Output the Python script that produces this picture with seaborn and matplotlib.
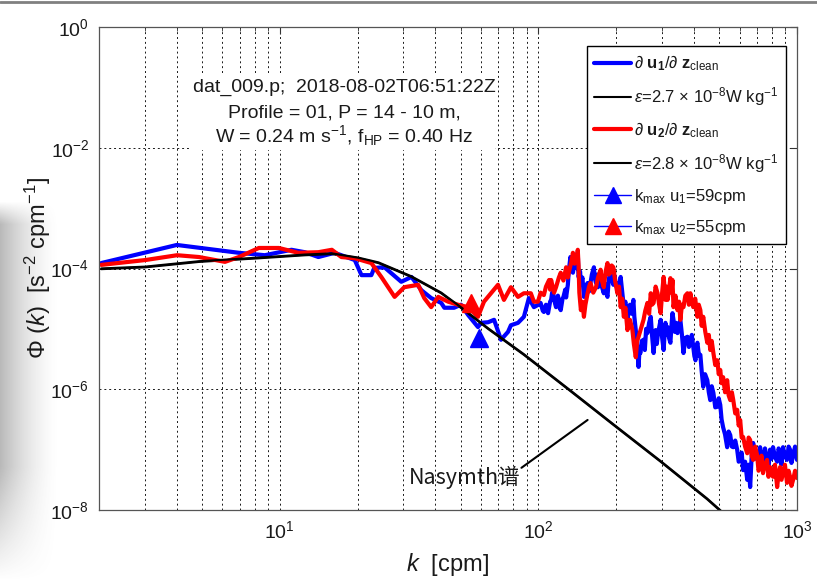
import numpy as np
import pandas as pd
import matplotlib
matplotlib.use("Agg")
import matplotlib.pyplot as plt
import seaborn as sns
from matplotlib.lines import Line2D
from matplotlib.patches import Rectangle
from matplotlib.ticker import FixedLocator, NullLocator, LogLocator, LogFormatterSciNotation, NullFormatter

# ---------------- data ----------------
# wavenumber k [cpm] and log10 of shear spectrum Phi [s^-2 cpm^-1]
k_u1 = [2.04, 4.0, 6.95, 8.75, 11.1, 12.5, 14.1, 16.3, 19.5, 20.7,
        22.6, 23.2, 25.4, 29.5, 32.3, 35.3, 38.5, 42.1, 43.3, 47.2,
        50.2, 53.5, 58.4, 60.0, 63.9, 67.4, 71.7, 76.3, 78.3, 83.4,
        87.9, 91.9, 96.1,
        100, 102, 104, 105, 107, 109, 111, 112, 113, 114,
        116, 117, 119, 120, 121, 122, 124, 125, 127, 128,
        130, 131, 133, 134, 136, 138, 140, 141, 142, 143,
        145, 146, 148, 150, 152, 155, 157, 159, 161, 164,
        165, 167, 169, 170, 172, 174, 176, 179, 181, 183,
        185, 187, 190, 192, 195, 197, 200, 202, 205, 208,
        211, 214, 217, 221, 223, 226, 229, 233, 235, 238,
        241, 244, 246, 248, 251, 255, 258, 261, 264, 268,
        272, 275, 279, 282, 284, 287, 289, 293, 297, 301,
        305, 308, 310, 313, 316, 320, 324, 327, 330, 333,
        337, 341, 345, 350, 354, 359, 364, 370, 377, 382,
        387, 392, 397, 401, 405, 408, 412, 418, 423, 428,
        434, 441, 450, 456, 462, 468, 475, 483, 492, 498,
        505, 511, 518, 527, 537, 544, 552, 560, 567, 577,
        587, 595, 603, 611, 619, 630, 642, 650, 659, 668,
        677, 689, 701, 710, 720, 729, 739, 752, 766, 776,
        787, 797, 808, 822, 838, 849, 860, 871, 883, 898,
        915, 928, 940, 952, 966, 983, 1000]
lg_u1 = [-3.91, -3.61, -3.74, -3.78, -3.69, -3.73, -3.81, -3.74, -3.86, -4.11,
         -4.11, -3.99, -3.98, -4.22, -4.14, -4.36, -4.49, -4.57, -4.65, -4.65,
         -4.60, -4.77, -4.97, -4.90, -4.89, -4.85, -5.18, -5.05, -4.94, -4.90,
         -4.80, -4.49, -4.64,
         -4.60, -4.57, -4.70, -4.72, -4.60, -4.74, -4.55, -4.52, -4.40, -4.41,
         -4.58, -4.64, -4.45, -4.52, -4.66, -4.69, -4.50, -4.47, -4.35, -4.48,
         -4.27, -4.05, -3.81, -4.00, -4.07, -3.90, -3.86, -4.00, -3.73, -4.14,
         -4.05, -4.27, -4.15, -4.47, -4.30, -4.24, -4.38, -4.24, -4.10, -3.98,
         -4.15, -4.24, -4.10, -4.31, -4.20, -4.14, -4.30, -4.41, -4.25, -4.40,
         -4.47, -4.20, -4.02, -4.18, -4.27, -4.12, -4.30, -4.24, -4.35, -4.14,
         -4.40, -4.64, -4.55, -4.85, -4.65, -4.60, -4.75, -4.52, -4.80, -5.02,
         -5.30, -5.63, -5.35, -5.40, -5.20, -5.18, -5.35, -5.00, -5.07, -4.90,
         -4.80, -5.10, -5.40, -5.15, -5.02, -5.25, -5.13, -4.98, -4.85, -5.15,
         -5.35, -5.05, -4.90, -5.10, -4.97, -5.15, -5.23, -4.95, -4.74, -4.85,
         -5.05, -4.90, -5.07, -4.95, -4.85, -5.10, -5.40, -5.15, -5.13, -5.30,
         -5.23, -5.10, -5.30, -5.45, -5.52, -5.30, -5.23, -5.45, -5.43, -5.70,
         -5.96, -5.75, -5.85, -6.05, -6.18, -5.95, -6.06, -6.30, -6.29, -6.15,
         -6.26, -6.50, -6.63, -6.75, -6.96, -6.70, -6.76, -6.95, -6.96, -6.85,
         -7.00, -7.20, -7.17, -7.05, -7.34, -7.20, -7.50, -7.25, -7.62, -7.10,
         -6.89, -7.15, -7.06, -7.25, -6.96, -7.15, -7.20, -6.98, -7.17, -7.30,
         -7.00, -7.15, -6.96, -7.12, -7.20, -6.98, -7.06, -7.25, -6.96, -7.10,
         -7.17, -6.95, -7.00, -7.22, -7.09, -6.95, -7.17]

k_u2 = [2.04, 3.02, 4.01, 4.87, 6.14, 6.95, 8.30, 9.91, 11.8, 14.1,
        15.9, 17.3, 19.5, 22.6, 24.7, 27.8, 30.3, 34.3, 36.2, 38.5,
        41.0, 44.8, 48.9, 53.5, 58.4, 61.6, 65.6, 69.8, 73.6, 78.3,
        83.4, 87.9, 93.5, 96.1,
        99.6, 102, 105, 107, 110, 111, 112, 115, 117, 120,
        122, 125, 128, 130, 131, 134, 136, 138, 140, 141,
        142, 143, 144, 146, 148, 150, 152, 155, 157, 159,
        163, 167, 170, 174, 176, 179, 182, 185, 187, 190,
        192, 195, 198, 202, 205, 208, 211, 214, 217, 221,
        226, 231, 234, 238, 241, 244, 249, 255, 259, 264,
        268, 272, 275, 279, 284, 289, 293, 297, 301, 305,
        308, 310, 313, 316, 320, 324, 327, 330, 333, 339,
        345, 350, 354, 359, 364, 370, 377, 382, 387, 392,
        397, 404, 412, 417, 423, 428, 434, 442, 450, 456,
        462, 468, 475, 483, 492, 498, 505, 511, 518, 527,
        537, 544, 552, 560, 567, 577, 587, 595, 603, 611,
        619, 630, 642, 650, 659, 668, 677, 689, 701, 710,
        720, 729, 739, 752, 766, 776, 787, 797, 808, 822,
        838, 849, 860, 871, 883, 898, 915, 928, 940, 952,
        966, 983, 1000]
lg_u2 = [-3.94, -3.86, -3.78, -3.81, -3.89, -3.81, -3.66, -3.66, -3.74, -3.73,
         -3.69, -3.81, -3.83, -3.91, -4.14, -4.47, -4.31, -4.27, -4.49, -4.64,
         -4.47, -4.55, -4.60, -4.64, -4.80, -4.55, -4.41, -4.27, -4.52, -4.31,
         -4.47, -4.41, -4.41, -4.55,
         -4.55, -4.40, -4.44, -4.30, -4.19, -4.35, -4.19, -4.40, -4.31, -4.15,
         -4.07, -4.20, -3.98, -4.15, -4.07, -3.90, -3.74, -3.92, -3.78, -3.85,
         -3.69, -3.95, -4.40, -4.69, -4.55, -4.80, -4.60, -4.41, -4.30, -4.24,
         -4.40, -4.31, -4.15, -4.02, -4.20, -4.31, -4.05, -3.91, -4.10, -4.07,
         -3.95, -3.98, -4.20, -4.41, -4.30, -4.64, -4.50, -4.80, -4.65, -5.02,
         -4.85, -5.02, -5.25, -5.47, -5.20, -5.13, -5.00, -4.85, -4.70, -4.57,
         -4.75, -4.41, -4.60, -4.57, -4.30, -4.41, -4.60, -4.74, -4.40, -4.14,
         -4.35, -4.52, -4.30, -4.52, -4.35, -4.16, -4.40, -4.19, -4.64, -4.45,
         -4.69, -4.55, -4.85, -4.60, -4.64, -4.45, -4.41, -4.60, -4.41, -4.55,
         -4.64, -4.50, -4.80, -4.60, -4.69, -4.95, -4.80, -5.05, -5.23, -5.10,
         -5.35, -5.20, -5.40, -5.60, -5.52, -5.75, -5.68, -5.90, -5.80, -6.05,
         -5.85, -6.10, -6.18, -6.05, -6.18, -6.40, -6.34, -6.60, -6.51, -6.80,
         -6.79, -6.95, -7.06, -6.80, -6.84, -7.10, -7.17, -6.95, -7.09, -7.35,
         -7.29, -7.10, -7.39, -7.25, -7.17, -7.45, -7.29, -7.40, -7.45, -7.25,
         -7.62, -7.40, -7.29, -7.50, -7.39, -7.25, -7.55, -7.35, -7.45, -7.60,
         -7.50, -7.35, -7.47]

# Nasmyth reference spectra
k_nas = [2.04, 3.02, 4.87, 8.30, 12.5, 15.9, 20.1, 24.1, 32.3, 42.1,
         51.6, 63.9, 87.9, 133, 195, 297, 449, 510]
lg_nas1 = [-4.01, -3.98, -3.89, -3.83, -3.78, -3.76, -3.83, -3.91, -4.14, -4.41,
           -4.69, -5.00, -5.43, -6.03, -6.59, -7.20, -7.82, -8.03]
lg_nas2 = [-4.00, -3.97, -3.88, -3.82, -3.77, -3.75, -3.82, -3.90, -4.13, -4.40,
           -4.68, -4.99, -5.42, -6.02, -6.58, -7.19, -7.81, -8.02]

# k_max markers
kmax = [59, 55]
kmax_phi = [7.0e-6, 2.7e-5]

eps = [2.7, 2.8]
info_lines = ["dat_009.p;  2018-08-02T06:51:22Z",
              "Profile = 01, P = 14 - 10 m,",
              r"W = 0.24 m s$^{-1}$, f$_{\rm HP}$ = 0.40 Hz"]
x_ticks = [10, 100, 1000]
y_ticks = [1e-8, 1e-6, 1e-4, 1e-2, 1]

# ---------------- style ----------------
sns.set_theme(style="white")
plt.rcParams["font.family"] = ["Liberation Sans", "Noto Sans CJK SC", "DejaVu Sans"]
plt.rcParams.update({
    "mathtext.fontset": "custom",
    "mathtext.rm": "Liberation Sans",
    "mathtext.it": "Liberation Sans:italic",
    "mathtext.bf": "Liberation Sans:bold",
    "mathtext.sf": "Liberation Sans",
})

fig = plt.figure(figsize=(8.17, 5.81), dpi=100)

# screenshot-like decorations (left shadow, top rule)
grad_ax = fig.add_axes([0, 0, 75 / 817, 380 / 581], zorder=-5)
gx = np.linspace(0, 1, 75)
gy = np.linspace(0, 1, 380)
ax_prof = np.clip(1 - gx / 0.8, 0, 1) ** 1.6
ay_prof = np.clip(gy / 0.06, 0, 1) * np.clip((1 - gy) / 0.30, 0, 1)
alpha = 0.42 * np.outer(ay_prof[::-1], ax_prof)
img = np.zeros((380, 75, 4))
img[..., :3] = 0.35
img[..., 3] = alpha[::-1]
grad_ax.imshow(img, aspect="auto", origin="upper", extent=[0, 1, 0, 1])
grad_ax.axis("off")
fig.add_artist(Line2D([0, 1], [1 - 1.5 / 581, 1 - 1.5 / 581], transform=fig.transFigure,
                      color="#808080", lw=2))

ax = fig.add_axes([99 / 817, 1 - 510 / 581, 698 / 817, 483 / 581])
ax.set_xscale("log")
ax.set_yscale("log")

df1 = pd.DataFrame({"k": k_u1, "phi": 10 ** np.array(lg_u1)})
df2 = pd.DataFrame({"k": k_u2, "phi": 10 ** np.array(lg_u2)})
dn1 = pd.DataFrame({"k": k_nas, "phi": 10 ** np.array(lg_nas1)})
dn2 = pd.DataFrame({"k": k_nas, "phi": 10 ** np.array(lg_nas2)})

sns.lineplot(data=df1, x="k", y="phi", ax=ax, color="#0000ff", lw=3.0,
             sort=False, estimator=None, legend=False)
sns.lineplot(data=dn1, x="k", y="phi", ax=ax, color="black", lw=1.6,
             sort=False, estimator=None, legend=False)
sns.lineplot(data=df2, x="k", y="phi", ax=ax, color="#ff0000", lw=3.0,
             sort=False, estimator=None, legend=False)
sns.lineplot(data=dn2, x="k", y="phi", ax=ax, color="black", lw=1.6,
             sort=False, estimator=None, legend=False)
ax.plot([kmax[0]], [kmax_phi[0]], marker="^", ms=13, color="#0000ff", mfc="#0000ff", mec="#0000ff", ls="none")
ax.plot([kmax[1]], [kmax_phi[1]], marker="^", ms=13, color="#0000ff", mfc="#ff0000", mec="#ff0000", ls="none")

ax.set_xlim(2, 1000)
ax.set_ylim(1e-8, 1)
ax.xaxis.set_major_locator(FixedLocator(x_ticks))
ax.xaxis.set_minor_locator(LogLocator(base=10, subs=np.arange(2, 10)))
ax.xaxis.set_minor_formatter(NullFormatter())
ax.xaxis.set_major_formatter(LogFormatterSciNotation())
ax.yaxis.set_major_locator(FixedLocator(y_ticks))
ax.yaxis.set_minor_locator(NullLocator())
ax.yaxis.set_major_formatter(LogFormatterSciNotation())

grid_kw = dict(color="black", lw=0.7, ls=(0, (2, 3)), alpha=0.9)
ax.grid(True, which="both", axis="x", **grid_kw)
ax.grid(True, which="major", axis="y", **grid_kw)
ax.tick_params(which="both", direction="in", top=True, right=True, colors="#333333",
               labelcolor="#1a1a1a", labelsize=14)
ax.tick_params(which="major", length=5, width=0.8, pad=7)
ax.tick_params(which="minor", length=3, width=0.6)
for s in ax.spines.values():
    s.set_color("#555555")
    s.set_linewidth(0.9)

ax.set_xlabel(r"$k$  [cpm]", fontsize=17, color="#1a1a1a")
ax.set_ylabel(r"$\Phi$ ($k$)  [s$^{-2}$ cpm$^{-1}$]", fontsize=17, color="#1a1a1a")
ax.xaxis.set_label_coords(0.5, -0.085)
ax.yaxis.set_label_coords(-0.066, 0.5)

# white background behind the info text (covers the grid)
ax.add_patch(Rectangle((91 / 698, 1 - 123 / 483), 305 / 698, 77 / 483, transform=ax.transAxes,
                       facecolor="white", edgecolor="none", zorder=2.5))
for txt, yy in zip(info_lines, [0.874, 0.822, 0.776]):
    ax.text(0.351, yy, txt, transform=ax.transAxes, ha="center", va="center",
            fontsize=14, color="#1a1a1a", zorder=3)

# Nasmyth annotation
ax.text(31.7, 3.4e-8, "Nasymth谱", ha="left", va="center", fontsize=15.5,
        family=["Noto Sans CJK SC", "DejaVu Sans"], color="#1a1a1a")
ax.annotate("", xy=(155, 3.1e-7), xytext=(86, 5.0e-8),
            arrowprops=dict(arrowstyle="-", lw=1.5, color="black", shrinkA=0, shrinkB=0))

handles = [
    Line2D([], [], color="#0000ff", lw=3),
    Line2D([], [], color="black", lw=1.5),
    Line2D([], [], color="#ff0000", lw=3),
    Line2D([], [], color="black", lw=1.5),
    Line2D([], [], color="#0000ff", lw=1, marker="^", ms=12, mfc="#0000ff", mec="#0000ff"),
    Line2D([], [], color="#0000ff", lw=1, marker="^", ms=12, mfc="#ff0000", mec="#ff0000"),
]
labels = [
    r"$\partial$ $\mathbf{u_1}$/$\partial$ $\mathbf{z}_{\rm clean}$",
    r"$\varepsilon$=%.1f $\times$ 10$^{-8}$W kg$^{-1}$" % eps[0],
    r"$\partial$ $\mathbf{u_2}$/$\partial$ $\mathbf{z}_{\rm clean}$",
    r"$\varepsilon$=%.1f $\times$ 10$^{-8}$W kg$^{-1}$" % eps[1],
    r"k$_{\rm max}$ u$_1$=%dcpm" % kmax[0],
    r"k$_{\rm max}$ u$_2$=%dcpm" % kmax[1],
]
leg = ax.legend(handles, labels, loc="upper right", bbox_to_anchor=(0.984, 0.961),
                fontsize=12, handlelength=2.2, handletextpad=0.2, labelspacing=0.72,
                borderpad=0.45, borderaxespad=0, fancybox=False, framealpha=1,
                edgecolor="black")
leg.get_frame().set_linewidth(1.0)
leg.set_zorder(5)
for t in leg.get_texts():
    t.set_color("#1a1a1a")

fig.savefig("out.png", dpi=100)
